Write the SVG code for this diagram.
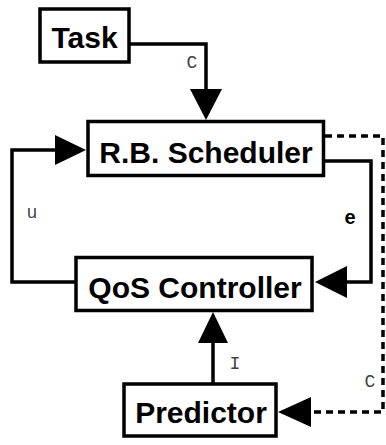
<svg xmlns="http://www.w3.org/2000/svg" width="386" height="445" viewBox="0 0 386 445">
<style>
.box{fill:#fff;stroke:#000;stroke-width:3.5}
.lbl{font-family:"Liberation Sans",Arial,sans-serif;font-weight:bold;font-size:30px;fill:#000;text-anchor:middle}
.mono{font-family:"Liberation Mono","Courier New",monospace;font-size:18px;fill:#444;text-anchor:middle}
.ln{fill:none;stroke:#000;stroke-width:3.5}
.dash{fill:none;stroke:#000;stroke-width:3.5;stroke-dasharray:7,5}
.ah{fill:#000}
</style>
<rect width="386" height="445" fill="#fff"/>
<g id="connectors">
<polyline class="ln" points="129,44 206,44 206,92"/>
<polygon class="ah" points="190,89 222,89 206,120"/>
<polyline class="ln" points="76,282 12,282 12,150 58,150"/>
<polygon class="ah" points="55,135 55,165 86,150"/>
<polyline class="ln" points="325,161 371,161 371,282 344,282"/>
<polygon class="ah" points="347,266 347,298 315,282"/>
<line class="ln" x1="213" y1="384" x2="213" y2="340"/>
<polygon class="ah" points="198,343 228,343 213,312"/>
<polyline class="dash" points="325,136 383,136 383,412 308,412"/>
<polygon class="ah" points="311,397 311,427 278,412"/>
<text class="mono" x="192" y="68">C</text>
<text class="mono" x="32" y="218">u</text>
<text x="350" y="224" font-family="Liberation Sans,Arial,sans-serif" font-weight="bold" font-size="20" text-anchor="middle">e</text>
<text class="mono" x="235" y="369">I</text>
<text class="mono" x="370" y="387">C</text>
</g>
<g id="task">
<rect class="box" x="40" y="9" width="89" height="53"/>
<text class="lbl" x="84.5" y="47.5">Task</text>
</g>
<g id="scheduler">
<rect class="box" x="88" y="121.5" width="235.5" height="54"/>
<text class="lbl" x="206" y="162.5">R.B. Scheduler</text>
</g>
<g id="controller">
<rect class="box" x="76" y="257.5" width="236" height="53"/>
<text class="lbl" x="195" y="297.5">QoS Controller</text>
</g>
<g id="predictor">
<rect class="box" x="124" y="384" width="152" height="52"/>
<text class="lbl" x="201" y="422.5">Predictor</text>
</g>
</svg>
